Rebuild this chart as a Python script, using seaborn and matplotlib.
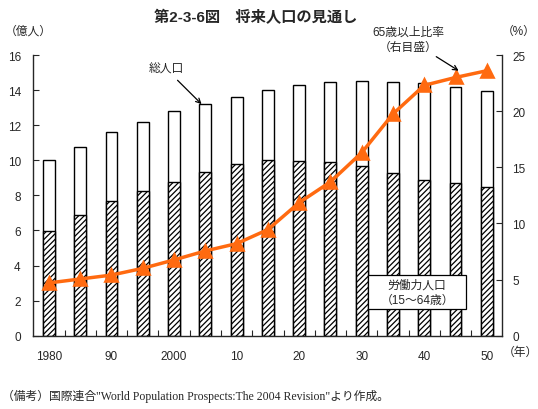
import numpy as np
import pandas as pd
import matplotlib
matplotlib.use("Agg")
import matplotlib.pyplot as plt
from matplotlib.patches import Rectangle
import seaborn as sns

# ---- data ----
years = [1980, 1985, 1990, 1995, 2000, 2005, 2010, 2015, 2020, 2025, 2030, 2035, 2040, 2045, 2050]
year_labels = ["1980", "", "90", "", "2000", "", "10", "", "20", "", "30", "", "40", "", "50"]
total_pop = [10.0, 10.75, 11.6, 12.2, 12.8, 13.2, 13.6, 14.0, 14.3, 14.45, 14.5, 14.45, 14.4, 14.2, 13.95]
working_pop = [5.95, 6.9, 7.7, 8.25, 8.75, 9.35, 9.8, 10.0, 9.95, 9.9, 9.65, 9.3, 8.9, 8.7, 8.45]
aged_ratio = [4.7, 5.05, 5.4, 6.0, 6.75, 7.55, 8.2, 9.45, 11.85, 13.7, 16.3, 19.75, 22.3, 23.0, 23.6]

df = pd.DataFrame({
    "year": [str(y) for y in years],
    "total": total_pop,
    "working": working_pop,
    "ratio": aged_ratio,
})

sns.set_style("ticks")
plt.rcParams["font.family"] = ["Liberation Sans", "Noto Sans CJK JP"]
plt.rcParams["hatch.linewidth"] = 0.9
plt.rcParams["hatch.color"] = "black"

ORANGE = "#FF6A10"

fig = plt.figure(figsize=(5.38, 4.10), dpi=100)
ax = fig.add_axes([0.0619, 0.1788, 0.8720, 0.6846])

# total population (white bars)
sns.barplot(data=df, x="year", y="total", color="white", saturation=1,
            edgecolor="black", linewidth=1, width=0.38, errorbar=None, ax=ax)
# working-age population (hatched bars)
sns.barplot(data=df, x="year", y="working", color="white", saturation=1,
            edgecolor="black", linewidth=1, width=0.38, errorbar=None,
            hatch="//////", ax=ax)

ax.set_ylim(0, 16)
ax.set_yticks(range(0, 17, 2))
ax.set_xlim(-0.5, len(years) - 0.5)
ax.set_xticks(range(len(years)))
ax.set_xticklabels(year_labels)
ax.set_xticks(np.arange(len(years) - 1) + 0.5, minor=True)
ax.tick_params(axis="x", which="major", length=0, pad=10, labelsize=8.5)
ax.tick_params(axis="x", which="minor", direction="in", length=4, width=0.8)
ax.tick_params(axis="y", direction="in", length=4, width=0.8, pad=9, labelsize=8.5)
ax.set_xlabel("")
ax.set_ylabel("")
for s in ["left", "bottom"]:
    ax.spines[s].set_linewidth(1)
ax.spines["top"].set_visible(False)
ax.spines["right"].set_visible(False)

# 65+ ratio on the right axis
ax2 = ax.twinx()
sns.pointplot(data=df, x="year", y="ratio", color=ORANGE, markers="^",
              markersize=9, linewidth=2.5, errorbar=None, ax=ax2)
ax2.set_ylim(0, 25)
ax2.set_yticks(range(0, 26, 5))
ax2.set_xlim(-0.5, len(years) - 0.5)
ax2.set_ylabel("")
ax2.set_xlabel("")
ax2.tick_params(axis="y", direction="in", length=4, width=0.8, pad=7, labelsize=8.5)
ax2.spines["top"].set_visible(False)
ax2.spines["left"].set_visible(False)
ax2.spines["bottom"].set_visible(False)
ax2.spines["right"].set_linewidth(1)

# annotations
ax.annotate("総人口", xy=(4.88, total_pop[5]), xytext=(3.75, 15.2),
            ha="center", va="center", fontsize=8.5,
            arrowprops=dict(arrowstyle="->", lw=0.9, color="black", shrinkA=2, shrinkB=0))
ax2.annotate("65歳以上比率\n（右目盛）", xy=(13.1, aged_ratio[13] + 0.6), xytext=(11.5, 26.4),
             ha="center", va="center", fontsize=8.5, linespacing=1.3, annotation_clip=False,
             arrowprops=dict(arrowstyle="->", lw=0.9, color="black", shrinkA=1, shrinkB=0))

# labelled box for working-age population
ax2.add_patch(Rectangle((0.714, 0.095), 0.208, 0.122, transform=ax2.transAxes,
                        facecolor="white", edgecolor="black", lw=0.9, zorder=9))
ax2.text(0.818, 0.156, "労働力人口\n（15～64歳）", transform=ax2.transAxes,
         ha="center", va="center", fontsize=8.5, linespacing=1.35, zorder=10)

# titles and unit labels
fig.text(0.476, 0.958, "第2-3-6図　将来人口の見通し", ha="center", va="center",
         fontsize=11, fontweight="bold")
fig.text(0.008, 0.922, "（億人）", ha="left", va="center", fontsize=8.5)
fig.text(0.932, 0.922, "（%）", ha="left", va="center", fontsize=8.5)
fig.text(0.935, 0.139, "（年）", ha="left", va="center", fontsize=8.5)
fig.text(0.004, 0.032,
         "（備考）国際連合\"World Population Prospects:The 2004 Revision\"より作成。",
         ha="left", va="center", fontsize=8.5,
         family=["Liberation Serif", "Noto Sans CJK JP"])

fig.savefig("out.png", dpi=100)
plt.close(fig)
